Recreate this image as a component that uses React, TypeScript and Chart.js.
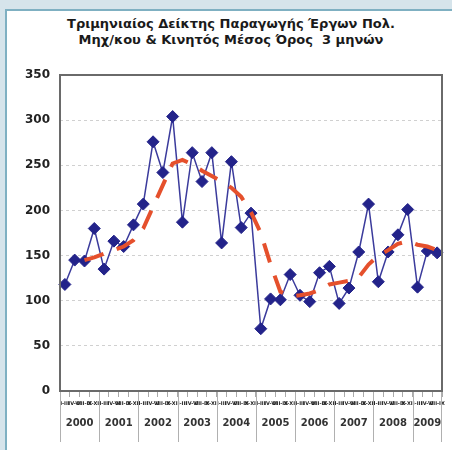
import React, { useEffect, useRef } from "react";
import { Chart, registerables } from "chart.js";

Chart.register(...registerables);

const TITLE_LINES = [
  "Τριμηνιαίος Δείκτης Παραγωγής Έργων Πολ.",
  "Μηχ/κου & Κινητός Μέσος Όρος  3 μηνών",
];

const YEARS = ["2000", "2001", "2002", "2003", "2004", "2005", "2006", "2007", "2008", "2009"];
const QUARTERS_PER_YEAR = [4, 4, 4, 4, 4, 4, 4, 4, 4, 3];
const QUARTER_LABELS = ["Ι-ΙΙΙ", "ΙV-VΙ", "VΙΙ-ΙΧ", "Χ-ΧΙΙ"];

const INDEX_VALUES = [
  118, 145, 144, 180,
  135, 166, 160, 184,
  207, 276, 242, 304,
  187, 264, 232, 264,
  164, 254, 181, 197,
  69, 102, 101, 129,
  106, 99, 131, 138,
  97, 114, 154, 207,
  121, 154, 173, 201,
  115, 155, 153,
];

const MOVING_AVG = [
  null, null, 145, 148,
  152, 156, 160, 167,
  180, 204, 228, 252,
  256, 251, 244, 238,
  232, 225, 215, 198,
  175, 140, 110, 105,
  106, 108, 112, 118,
  120, 122, 126, 140,
  150, 156, 163, 166,
  162, 160, 156,
];

const Y_MIN = 0;
const Y_MAX = 350;
const Y_STEP = 50;

const CATEGORY_LABELS: string[] = [];
YEARS.forEach((_, yi) => {
  for (let q = 0; q < QUARTERS_PER_YEAR[yi]; q++) CATEGORY_LABELS.push(QUARTER_LABELS[q]);
});

const FONT = "'DejaVu Sans', Verdana, sans-serif";

const framePlugin = {
  id: "frameAndYears",
  afterDraw(chart: any) {
    const { ctx, chartArea: a } = chart;
    const x = chart.scales.x;
    const half = (x.getPixelForValue(1) - x.getPixelForValue(0)) / 2;
    ctx.save();
    let start = 0;
    ctx.strokeStyle = "#b0b0b0";
    ctx.lineWidth = 1;
    ctx.fillStyle = "#333";
    ctx.font = `bold 10px ${FONT}`;
    ctx.textAlign = "center";
    ctx.textBaseline = "middle";
    YEARS.forEach((yr, yi) => {
      const n = QUARTERS_PER_YEAR[yi];
      const left = x.getPixelForValue(start) - half;
      const right = x.getPixelForValue(start + n - 1) + half;
      ctx.beginPath();
      ctx.moveTo(Math.round(left) + 0.5, a.bottom);
      ctx.lineTo(Math.round(left) + 0.5, a.bottom + 51);
      ctx.stroke();
      if (yi === YEARS.length - 1) {
        ctx.beginPath();
        ctx.moveTo(Math.round(right) - 0.5, a.bottom);
        ctx.lineTo(Math.round(right) - 0.5, a.bottom + 51);
        ctx.stroke();
      }
      ctx.fillText(yr, (left + right) / 2, a.bottom + 32);
      start += n;
    });
    ctx.strokeStyle = "#6a6a6a";
    ctx.lineWidth = 2;
    ctx.strokeRect(a.left, a.top, a.width, a.height);
    ctx.restore();
  },
};

export default function App() {
  const ref = useRef<HTMLCanvasElement | null>(null);

  useEffect(() => {
    if (!ref.current) return;
    const chart = new Chart(ref.current, {
      type: "line",
      data: {
        labels: CATEGORY_LABELS,
        datasets: [
          {
            label: "Κινητός Μέσος Όρος 3 μηνών",
            data: MOVING_AVG,
            borderColor: "#e5502c",
            borderWidth: 4,
            borderDash: [20, 14],
            pointRadius: 0,
            fill: false,
            tension: 0,
            spanGaps: false,
          },
          {
            label: "Δείκτης",
            data: INDEX_VALUES,
            borderColor: "#3b3b9c",
            borderWidth: 1.5,
            pointStyle: "rectRot",
            pointRadius: 6,
            pointBackgroundColor: "#23238a",
            pointBorderColor: "#23238a",
            pointBorderWidth: 1,
            fill: false,
            tension: 0,
          },
        ],
      },
      options: {
        animation: false,
        responsive: true,
        maintainAspectRatio: false,
        layout: { padding: { left: 0, right: 10, top: 75, bottom: 0 } },
        plugins: {
          legend: { display: false },
          tooltip: { enabled: false },
          title: { display: false },
        },
        scales: {
          x: {
            type: "category",
            offset: true,
            grid: {
              offset: true,
              drawOnChartArea: false,
              drawTicks: true,
              tickLength: 6,
              color: "#aaaaaa",
            },
            border: { display: false },
            ticks: {
              autoSkip: false,
              maxRotation: 0,
              minRotation: 0,
              padding: 4,
              color: "#222",
              font: { family: FONT, size: 5, weight: "bold" },
            },
            afterFit(scale: any) {
              scale.height = 59;
            },
          },
          y: {
            min: Y_MIN,
            max: Y_MAX,
            ticks: {
              stepSize: Y_STEP,
              padding: 10,
              color: "#222",
              font: { family: FONT, size: 12, weight: "bold" },
            },
            grid: {
              drawTicks: false,
              color: "#d0d0d0",
              lineWidth: 1,
            },
            border: { display: false, dash: [3, 3] },
            afterFit(scale: any) {
              scale.width = 60;
            },
          },
        },
      },
      plugins: [framePlugin],
    });
    return () => chart.destroy();
  }, []);

  return (
    <div
      style={{
        position: "fixed",
        left: 0,
        top: 0,
        width: 452,
        height: 450,
        background: "#d6e4eb",
        overflow: "hidden",
      }}
    >
      <div
        style={{
          position: "absolute",
          left: 5,
          top: 9,
          width: 470,
          height: 470,
          background: "#ffffff",
          border: "2px solid #7fb0c2",
          boxSizing: "border-box",
        }}
      />
      <div
        style={{
          position: "absolute",
          left: 0,
          top: 16,
          width: 462,
          textAlign: "center",
          fontFamily: FONT,
          fontWeight: "bold",
          fontSize: 13,
          lineHeight: "16px",
          color: "#1a1a1a",
          whiteSpace: "pre",
        }}
      >
        {TITLE_LINES.map((t, i) => (
          <div key={i}>{t}</div>
        ))}
      </div>
      <div style={{ position: "absolute", left: 0, top: 0, width: 452, height: 450 }}>
        <canvas ref={ref} />
      </div>
    </div>
  );
}
